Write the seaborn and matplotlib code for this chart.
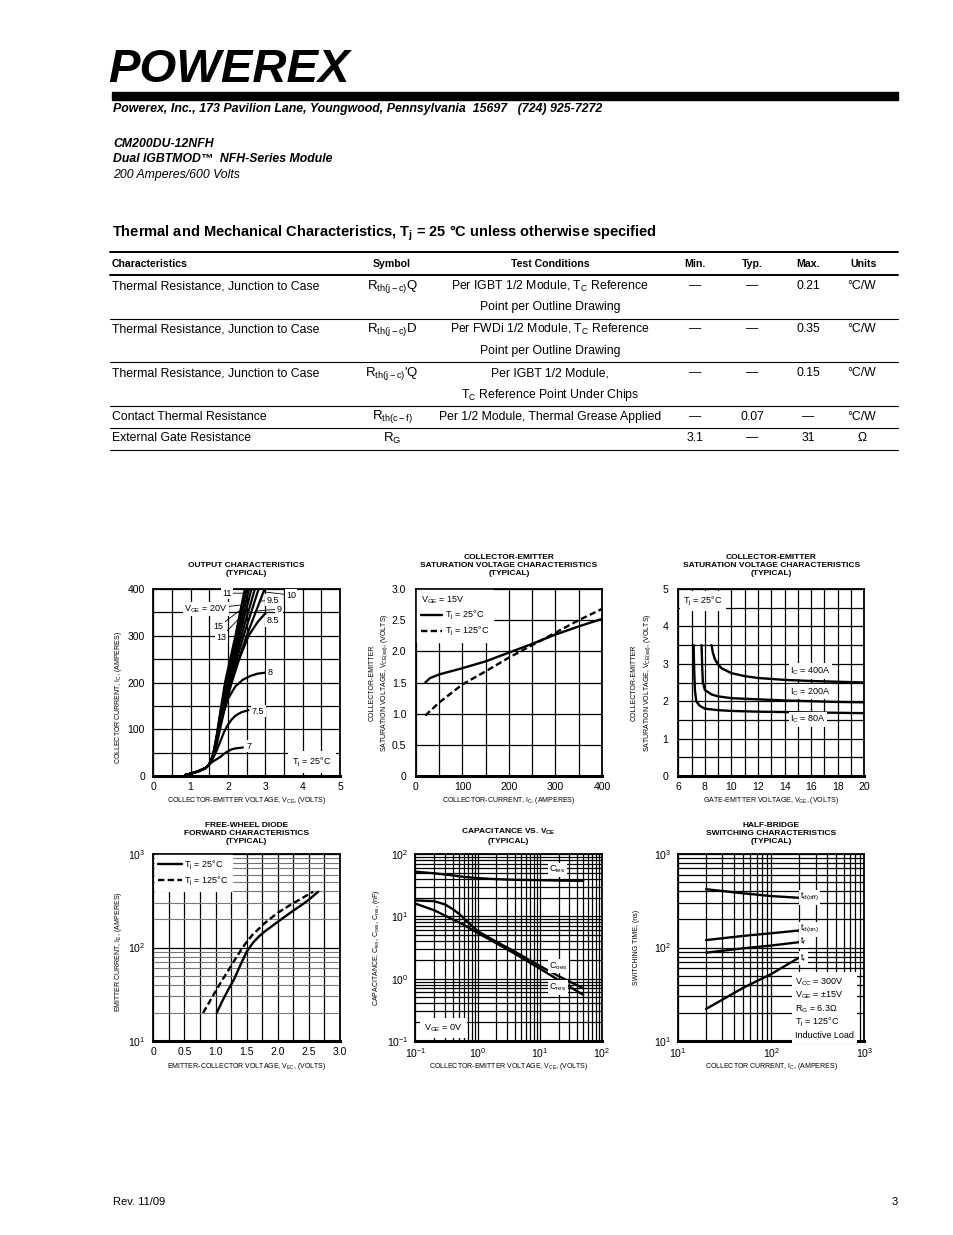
import matplotlib
matplotlib.use('Agg')
import matplotlib.pyplot as plt
import seaborn as sns
import pandas as pd
from matplotlib.ticker import MultipleLocator, LogLocator, NullFormatter, FixedLocator, FixedFormatter
from matplotlib.patches import Rectangle
from matplotlib.lines import Line2D

# ======================= DATA =======================
# --- Output characteristics: IC vs VCE for several VGE (Tj = 25 C) ---
oc_common_vce = [0.85, 1.0, 1.2, 1.4, 1.5]
oc_common_ic = [2, 5, 10, 17, 25]
vge_levels = ['7', '7.5', '8', '8.5', '9', '9.5', '10', '11', '13', '15', '20']
vce_7 = [1.6, 1.7, 1.8, 1.9, 2.0, 2.1, 2.2, 2.4]
ic_7 = [31, 36, 41, 48, 53, 57, 59, 61]
vce_7p5 = [1.6, 1.7, 1.8, 1.9, 2.0, 2.1, 2.2, 2.35, 2.55]
ic_7p5 = [38, 55, 75, 95, 110, 121, 129, 136, 141]
vce_8 = [1.6, 1.7, 1.8, 1.9, 2.0, 2.2, 2.4, 2.6, 2.8, 3.0]
ic_8 = [40, 68, 105, 140, 165, 192, 206, 214, 219, 221]
vce_8p5 = [1.6, 1.7, 1.8, 2.1, 2.3, 2.55, 2.8, 3.0]
ic_8p5 = [42, 74, 112, 200, 250, 300, 330, 348]
vce_9 = [1.6, 1.7, 1.8, 2.08, 2.5, 2.98]
ic_9 = [42, 76, 116, 200, 300, 400]
vce_9p5 = [1.6, 1.7, 1.8, 2.05, 2.42, 2.82]
ic_9p5 = [43, 78, 120, 200, 300, 400]
vce_10 = [1.6, 1.7, 1.8, 2.02, 2.36, 2.72]
ic_10 = [43, 80, 124, 200, 300, 400]
vce_11 = [1.6, 1.7, 1.8, 2.0, 2.31, 2.63]
ic_11 = [44, 82, 128, 200, 300, 400]
vce_13 = [1.6, 1.7, 1.8, 1.97, 2.27, 2.56]
ic_13 = [44, 84, 132, 200, 300, 400]
vce_15 = [1.6, 1.7, 1.8, 1.95, 2.23, 2.5]
ic_15 = [45, 86, 136, 200, 300, 400]
vce_20 = [1.6, 1.7, 1.8, 1.92, 2.2, 2.45]
ic_20 = [45, 88, 140, 200, 300, 400]
oc_x_ticklabels = ['0', '1', '2', '3', '4', '5']
oc_y_ticklabels = ['0', '100', '200', '300', '400']

# --- VCE(sat) vs IC (VGE = 15 V) ---
sat_ic_25 = [20, 30, 50, 100, 150, 200, 250, 300, 350, 400]
sat_v_25 = [1.50, 1.57, 1.63, 1.73, 1.84, 1.98, 2.12, 2.27, 2.40, 2.52]
sat_ic_125 = [20, 50, 100, 150, 200, 250, 300, 350, 400]
sat_v_125 = [0.97, 1.18, 1.47, 1.68, 1.90, 2.10, 2.30, 2.50, 2.68]
sat_x_ticklabels = ['0', '100', '200', '300', '400']
sat_y_ticklabels = ['0', '0.5', '1.0', '1.5', '2.0', '2.5', '3.0']

# --- VCE(sat) vs VGE (Tj = 25 C) ---
vg_80 = [7.15, 7.2, 7.25, 7.35, 7.6, 8, 9, 10, 12, 14, 16, 18, 20]
vs_80 = [3.5, 2.8, 2.3, 2.0, 1.88, 1.8, 1.76, 1.74, 1.72, 1.71, 1.70, 1.69, 1.68]
vg_200 = [7.75, 7.8, 7.85, 8.0, 8.5, 9, 10, 12, 14, 16, 18, 20]
vs_200 = [3.5, 2.9, 2.5, 2.3, 2.18, 2.13, 2.08, 2.05, 2.02, 2.0, 1.98, 1.97]
vg_400 = [8.5, 8.6, 8.76, 9.0, 9.26, 10, 11, 12, 14, 16, 18, 20]
vs_400 = [3.5, 3.3, 3.12, 2.98, 2.88, 2.75, 2.67, 2.62, 2.57, 2.54, 2.52, 2.5]
vge_x_ticklabels = ['6', '8', '10', '12', '14', '16', '18', '20']
vge_y_ticklabels = ['0', '1', '2', '3', '4', '5']

# --- Free-wheel diode forward characteristics ---
fwd_v_25 = [1.02, 1.1, 1.2, 1.3, 1.4, 1.5, 1.6, 1.7, 1.8, 2.0, 2.2, 2.4, 2.5, 2.65]
fwd_i_25 = [20, 26, 35, 46, 65, 90, 112, 132, 150, 188, 235, 290, 325, 395]
fwd_v_125 = [0.8, 0.9, 1.0, 1.1, 1.2, 1.3, 1.4, 1.5, 1.6, 1.8, 2.0, 2.2, 2.4, 2.57]
fwd_i_125 = [20, 26, 34, 44, 56, 72, 92, 115, 138, 185, 235, 285, 340, 395]
fwd_x_ticklabels = ['0', '0.5', '1.0', '1.5', '2.0', '2.5', '3.0']

# --- Capacitance vs VCE ---
cap_v_ies = [0.1, 0.2, 0.35, 0.6, 1, 2, 4, 10, 20, 50]
cap_ies = [52, 49, 46, 43, 41, 39.5, 38.5, 38, 37.5, 37]
cap_v_oes = [0.1, 0.2, 0.3, 0.4, 0.5, 0.7, 1, 2, 4, 10, 20, 50]
cap_oes = [18, 17.5, 15.5, 13, 11, 8, 5.8, 3.9, 2.7, 1.6, 1.1, 0.7]
cap_v_res = [0.1, 0.2, 0.35, 0.6, 1, 2, 4, 10, 20, 50]
cap_res = [16, 12.5, 9.5, 7.3, 5.4, 3.7, 2.5, 1.45, 0.95, 0.55]

# --- Half-bridge switching characteristics ---
sw_ic = [20, 50, 100, 200]
sw_tdoff = [420, 380, 355, 340]
sw_tdon = [120, 133, 142, 152]
sw_tf = [88, 98, 105, 114]
sw_tr = [22, 37, 52, 78]

# --- Thermal & mechanical table ---
tbl_header = ['Characteristics', 'Symbol', 'Test Conditions', 'Min.', 'Typ.', 'Max.', 'Units']
tbl_char = ['Thermal Resistance, Junction to Case', 'Thermal Resistance, Junction to Case',
            'Thermal Resistance, Junction to Case', 'Contact Thermal Resistance',
            'External Gate Resistance']
tbl_symbol = ['R$_{th(j-c)}$Q', 'R$_{th(j-c)}$D', "R$_{th(j-c)}$'Q", 'R$_{th(c-f)}$', 'R$_G$']
tbl_cond1 = ['Per IGBT 1/2 Module, T$_C$ Reference', 'Per FWDi 1/2 Module, T$_C$ Reference',
             'Per IGBT 1/2 Module,', 'Per 1/2 Module, Thermal Grease Applied', '']
tbl_cond2 = ['Point per Outline Drawing', 'Point per Outline Drawing',
             'T$_C$ Reference Point Under Chips', '', '']
tbl_min = ['\u2014', '\u2014', '\u2014', '\u2014', '3.1']
tbl_typ = ['\u2014', '\u2014', '\u2014', '0.07', '\u2014']
tbl_max = ['0.21', '0.35', '0.15', '\u2014', '31']
tbl_units = ['°C/W', '°C/W', '°C/W', '°C/W', 'Ω']

# ======================= STYLE =======================
sns.set_theme(style='white')
plt.rcParams['font.family'] = ['Liberation Sans', 'DejaVu Sans']
plt.rcParams['mathtext.fontset'] = 'custom'
plt.rcParams['mathtext.rm'] = 'Liberation Sans'
plt.rcParams['mathtext.it'] = 'Liberation Sans:italic'
plt.rcParams['mathtext.bf'] = 'Liberation Sans:bold'
plt.rcParams['mathtext.default'] = 'regular'
plt.rcParams['text.color'] = 'black'

W, H = 954, 1235
fig = plt.figure(figsize=(W / 100, H / 100), dpi=100)
fig.patch.set_facecolor('white')


def fx(px):
    return px / W


def fy(py):
    return 1 - py / H


def hline(x0, x1, y, lw):
    fig.add_artist(Line2D([fx(x0), fx(x1)], [fy(y), fy(y)], color='black', lw=lw,
                          transform=fig.transFigure))


# ======================= HEADER =======================
fig.text(fx(108), fy(82), 'POWEREX', fontsize=34, fontweight='bold', style='italic',
         va='baseline', ha='left')
fig.add_artist(Rectangle((fx(112), fy(100)), (898 - 112) / W, 8 / H, color='black',
                         transform=fig.transFigure))
fig.text(fx(113), fy(109), 'Powerex, Inc., 173 Pavilion Lane, Youngwood, Pennsylvania  15697   (724) 925-7272',
         fontsize=8.9, fontweight='bold', style='italic', va='center')
fig.text(fx(113), fy(144), 'CM200DU-12NFH', fontsize=8.8, fontweight='bold', style='italic', va='center')
fig.text(fx(113), fy(159), 'Dual IGBTMOD\u2122  NFH-Series Module', fontsize=8.8, fontweight='bold',
         style='italic', va='center')
fig.text(fx(113), fy(175), '200 Amperes/600 Volts', fontsize=8.8, style='italic', va='center')

fig.text(fx(112), fy(233), 'Thermal and Mechanical Characteristics, T$_j$ = 25 °C unless otherwise specified',
         fontsize=10.5, fontweight='bold', va='center')

# ======================= TABLE =======================
col_x = [112, 392, 550, 695, 752, 808, 864]
col_ha = ['left', 'center', 'center', 'center', 'center', 'center', 'center']
hline(110, 898, 252, 1.4)
hline(110, 898, 275, 1.4)
for txt, x, ha in zip(tbl_header, col_x, col_ha):
    fig.text(fx(x), fy(264), txt, fontsize=7.6, fontweight='bold', ha=ha, va='center')
row_y1 = [286, 329, 373, 417, 438]
row_y2 = [307, 351, 395, None, None]
row_lines = [319, 362, 406, 428, 450]
TF = 8.8
for i in range(5):
    y = row_y1[i]
    fig.text(fx(112), fy(y), tbl_char[i], fontsize=TF, va='center')
    fig.text(fx(392), fy(y), tbl_symbol[i], fontsize=9.5, va='center', ha='center')
    if tbl_cond1[i]:
        fig.text(fx(550), fy(y), tbl_cond1[i], fontsize=TF, va='center', ha='center')
    if tbl_cond2[i]:
        fig.text(fx(550), fy(row_y2[i]), tbl_cond2[i], fontsize=TF, va='center', ha='center')
    fig.text(fx(695), fy(y), tbl_min[i], fontsize=TF, va='center', ha='center')
    fig.text(fx(752), fy(y), tbl_typ[i], fontsize=TF, va='center', ha='center')
    fig.text(fx(808), fy(y), tbl_max[i], fontsize=TF, va='center', ha='center')
    fig.text(fx(862), fy(y), tbl_units[i], fontsize=TF, va='center', ha='center')
    hline(110, 898, row_lines[i], 0.8)

# ======================= CHART HELPERS =======================
LBL = 7.5
SMALL = 6.5
AXL = 5


def make_ax(box):
    l, t, r, b = box
    ax = fig.add_axes([fx(l), fy(b), (r - l) / W, (b - t) / H])
    ax.set_facecolor('white')
    return ax


def finish(ax, box, title, pad, xlabel, ylabel, ylab_px, xlab_py, ylab_yfrac=0.5, ypad=5):
    l, t, r, b = box
    for sp in ax.spines.values():
        sp.set_visible(True)
        sp.set_color('black')
        sp.set_linewidth(1.3)
    ax.spines['bottom'].set_linewidth(2.2)
    ax.tick_params(axis='both', which='both', length=0, labelsize=LBL, colors='black')
    ax.tick_params(axis='x', pad=4)
    ax.tick_params(axis='y', pad=ypad)
    ax.grid(True, which='both', color='black', linewidth=0.9)
    ax.set_axisbelow(True)
    ax.set_title(title, fontsize=6, fontweight='bold', pad=pad, linespacing=1.2)
    ax.set_xlabel(xlabel, fontsize=AXL, color='black')
    ax.set_ylabel(ylabel, fontsize=AXL, color='black', linespacing=1.6)
    ax.xaxis.set_label_coords(0.5, (b - xlab_py) / (b - t))
    ax.yaxis.set_label_coords((ylab_px - l) / (r - l), ylab_yfrac)
    ax.xaxis.label.set_va('center')
    ax.yaxis.label.set_va('center')


WHITE = dict(facecolor='white', edgecolor='none', pad=1.0)

# ======================= CHART 1: OUTPUT CHARACTERISTICS =======================
box1 = (153.3, 589, 340, 776)
ax1 = make_ax(box1)
curve_x = [vce_7, vce_7p5, vce_8, vce_8p5, vce_9, vce_9p5, vce_10, vce_11, vce_13, vce_15, vce_20]
curve_y = [ic_7, ic_7p5, ic_8, ic_8p5, ic_9, ic_9p5, ic_10, ic_11, ic_13, ic_15, ic_20]
frames = []
for lev, xs, ys in zip(vge_levels, curve_x, curve_y):
    frames.append(pd.DataFrame({'vce': oc_common_vce + xs, 'ic': oc_common_ic + ys, 'vge': lev}))
oc_df = pd.concat(frames, ignore_index=True)
sns.lineplot(data=oc_df, x='vce', y='ic', units='vge', estimator=None, sort=False,
             color='black', linewidth=1.6, ax=ax1, legend=False)
ax1.set_xlim(0, 5)
ax1.set_ylim(0, 400)
ax1.xaxis.set_major_locator(FixedLocator([0, 1, 2, 3, 4, 5]))
ax1.xaxis.set_major_formatter(FixedFormatter(oc_x_ticklabels))
ax1.xaxis.set_minor_locator(MultipleLocator(0.5))
ax1.yaxis.set_major_locator(FixedLocator([0, 100, 200, 300, 400]))
ax1.yaxis.set_major_formatter(FixedFormatter(oc_y_ticklabels))
ax1.yaxis.set_minor_locator(MultipleLocator(50))
ann = dict(arrowstyle='-', lw=0.6, color='black', shrinkA=0, shrinkB=0)
ax1.annotate('11', xy=(2.40, 391), xytext=(1.98, 391), fontsize=SMALL, ha='center', va='center',
             arrowprops=ann, bbox=WHITE)
ax1.annotate('V$_{GE}$ = 20V', xy=(2.37, 366), xytext=(2.0, 357), fontsize=SMALL, ha='right',
             va='center', arrowprops=ann, bbox=WHITE)
ax1.annotate('15', xy=(2.40, 359), xytext=(1.74, 319), fontsize=SMALL, ha='center', va='center',
             arrowprops=ann, bbox=WHITE)
ax1.annotate('13', xy=(2.38, 344), xytext=(1.82, 297), fontsize=SMALL, ha='center', va='center',
             arrowprops=ann, bbox=WHITE)
ax1.annotate('10', xy=(2.94, 394), xytext=(3.69, 387), fontsize=SMALL, ha='center', va='center',
             arrowprops=ann, bbox=WHITE)
ax1.annotate('9.5', xy=(2.86, 374), xytext=(3.19, 376), fontsize=SMALL, ha='center', va='center',
             arrowprops=ann, bbox=WHITE)
ax1.annotate('9', xy=(2.78, 353), xytext=(3.37, 357), fontsize=SMALL, ha='center', va='center',
             arrowprops=ann, bbox=WHITE)
ax1.text(3.19, 332, '8.5', fontsize=SMALL, ha='center', va='center', bbox=WHITE)
ax1.text(3.13, 222, '8', fontsize=SMALL, ha='center', va='center', bbox=WHITE)
ax1.text(2.81, 139, '7.5', fontsize=SMALL, ha='center', va='center', bbox=WHITE)
ax1.text(2.56, 64, '7', fontsize=SMALL, ha='center', va='center', bbox=WHITE)
ax1.text(0.745, 0.075, 'T$_j$ = 25°C', transform=ax1.transAxes, fontsize=SMALL, ha='left',
         va='center', bbox=dict(facecolor='white', edgecolor='none', pad=3))
finish(ax1, box1, 'OUTPUT CHARACTERISTICS\n(TYPICAL)', 10,
       'COLLECTOR-EMITTER VOLTAGE, V$_{CE}$, (VOLTS)', 'COLLECTOR CURRENT, I$_C$, (AMPERES)',
       118, 800, ylab_yfrac=0.42, ypad=6)

# ======================= CHART 2: VCE(sat) vs IC =======================
box2 = (416, 589, 602, 776)
ax2 = make_ax(box2)
sns.lineplot(x=sat_ic_25, y=sat_v_25, color='black', linewidth=1.7, ax=ax2,
             label='T$_j$ = 25°C', sort=False)
sns.lineplot(x=sat_ic_125, y=sat_v_125, color='black', linewidth=1.7, ax=ax2,
             label='T$_j$ = 125°C', sort=False, linestyle=(0, (2.7, 1.4)))
ax2.set_xlim(0, 400)
ax2.set_ylim(0, 3)
ax2.xaxis.set_major_locator(FixedLocator([0, 100, 200, 300, 400]))
ax2.xaxis.set_major_formatter(FixedFormatter(sat_x_ticklabels))
ax2.xaxis.set_minor_locator(MultipleLocator(50))
ax2.yaxis.set_major_locator(FixedLocator([0, 0.5, 1.0, 1.5, 2.0, 2.5, 3.0]))
ax2.yaxis.set_major_formatter(FixedFormatter(sat_y_ticklabels))
leg2 = ax2.legend(title='V$_{GE}$ = 15V', loc='upper left', fontsize=SMALL, title_fontsize=SMALL,
                  frameon=True, fancybox=False, framealpha=1, edgecolor='white', facecolor='white',
                  handlelength=2.3, handletextpad=0.3, labelspacing=0.35, borderpad=0.45,
                  borderaxespad=0.15, alignment='left')
finish(ax2, box2, 'COLLECTOR-EMITTER\nSATURATION VOLTAGE CHARACTERISTICS\n(TYPICAL)', 10,
       'COLLECTOR-CURRENT, I$_C$, (AMPERES)',
       'COLLECTOR-EMITTER\nSATURATION VOLTAGE, V$_{CE(sat)}$, (VOLTS)', 379.5, 800, ypad=7)

# ======================= CHART 3: VCE(sat) vs VGE =======================
box3 = (678.3, 589, 864.3, 776)
ax3 = make_ax(box3)
for xs, ys in [(vg_80, vs_80), (vg_200, vs_200), (vg_400, vs_400)]:
    sns.lineplot(x=xs, y=ys, color='black', linewidth=1.7, ax=ax3, sort=False)
ax3.set_xlim(6, 20)
ax3.set_ylim(0, 5)
ax3.xaxis.set_major_locator(FixedLocator([6, 8, 10, 12, 14, 16, 18, 20]))
ax3.xaxis.set_major_formatter(FixedFormatter(vge_x_ticklabels))
ax3.xaxis.set_minor_locator(MultipleLocator(1))
ax3.yaxis.set_major_locator(FixedLocator([0, 1, 2, 3, 4, 5]))
ax3.yaxis.set_major_formatter(FixedFormatter(vge_y_ticklabels))
ax3.yaxis.set_minor_locator(MultipleLocator(0.5))
ax3.text(14.4, 2.81, 'I$_C$ = 400A', fontsize=SMALL, ha='left', va='center', bbox=WHITE)
ax3.text(14.4, 2.25, 'I$_C$ = 200A', fontsize=SMALL, ha='left', va='center', bbox=WHITE)
ax3.text(14.4, 1.52, 'I$_C$ = 80A', fontsize=SMALL, ha='left', va='center', bbox=WHITE)
ax3.text(0.025, 0.935, 'T$_j$ = 25°C', transform=ax3.transAxes, fontsize=SMALL, ha='left',
         va='center', bbox=dict(facecolor='white', edgecolor='none', pad=2.5))
finish(ax3, box3, 'COLLECTOR-EMITTER\nSATURATION VOLTAGE CHARACTERISTICS\n(TYPICAL)', 10,
       'GATE-EMITTER VOLTAGE, V$_{GE}$, (VOLTS)',
       'COLLECTOR-EMITTER\nSATURATION VOLTAGE, V$_{CE(sat)}$, (VOLTS)', 642, 800, ypad=7)

# ======================= CHART 4: FREE-WHEEL DIODE =======================
box4 = (153.3, 854, 340, 1041)
ax4 = make_ax(box4)
sns.lineplot(x=fwd_v_25, y=fwd_i_25, color='black', linewidth=1.7, ax=ax4,
             label='T$_j$ = 25°C', sort=False)
sns.lineplot(x=fwd_v_125, y=fwd_i_125, color='black', linewidth=1.7, ax=ax4,
             label='T$_j$ = 125°C', sort=False, linestyle=(0, (2.7, 1.4)))
ax4.set_yscale('log')
ax4.set_xlim(0, 3)
ax4.set_ylim(10, 1000)
ax4.xaxis.set_major_locator(FixedLocator([0, 0.5, 1.0, 1.5, 2.0, 2.5, 3.0]))
ax4.xaxis.set_major_formatter(FixedFormatter(fwd_x_ticklabels))
ax4.xaxis.set_minor_locator(MultipleLocator(0.25))
ax4.yaxis.set_major_locator(LogLocator(base=10, numticks=10))
ax4.yaxis.set_minor_locator(LogLocator(base=10, subs=range(2, 10), numticks=40))
ax4.yaxis.set_minor_formatter(NullFormatter())
ax4.legend(loc='upper left', fontsize=SMALL, frameon=True, fancybox=False, framealpha=1,
           edgecolor='white', facecolor='white', handlelength=2.6, handletextpad=0.3,
           labelspacing=0.3, borderpad=0.4, borderaxespad=0.15)
finish(ax4, box4, 'FREE-WHEEL DIODE\nFORWARD CHARACTERISTICS\n(TYPICAL)', 8,
       'EMITTER-COLLECTOR VOLTAGE, V$_{EC}$, (VOLTS)', 'EMITTER CURRENT, I$_E$, (AMPERES)',
       118, 1066, ylab_yfrac=0.48, ypad=6)
ax4.grid(True, which='minor', axis='y', color='#777777', linewidth=0.8)

# ======================= CHART 5: CAPACITANCE =======================
box5 = (415.5, 854, 602, 1041)
ax5 = make_ax(box5)
for xs, ys in [(cap_v_ies, cap_ies), (cap_v_oes, cap_oes), (cap_v_res, cap_res)]:
    sns.lineplot(x=xs, y=ys, color='black', linewidth=1.7, ax=ax5, sort=False)
ax5.set_xscale('log')
ax5.set_yscale('log')
ax5.set_xlim(0.1, 100)
ax5.set_ylim(0.1, 100)
for axis in (ax5.xaxis, ax5.yaxis):
    axis.set_major_locator(LogLocator(base=10, numticks=10))
    axis.set_minor_locator(LogLocator(base=10, subs=range(2, 10), numticks=40))
    axis.set_minor_formatter(NullFormatter())
ax5.text(14.3, 56, 'C$_{ies}$', fontsize=SMALL, ha='left', va='center', bbox=WHITE)
ax5.text(14.3, 1.6, 'C$_{oes}$', fontsize=SMALL, ha='left', va='center', bbox=WHITE)
ax5.text(14.3, 0.72, 'C$_{res}$', fontsize=SMALL, ha='left', va='center', bbox=WHITE)
ax5.text(0.045, 0.07, 'V$_{GE}$ = 0V', transform=ax5.transAxes, fontsize=SMALL, ha='left',
         va='center', bbox=dict(facecolor='white', edgecolor='none', pad=3))
finish(ax5, box5, 'CAPACITANCE VS. V$_{CE}$\n(TYPICAL)', 8,
       'COLLECTOR-EMITTER VOLTAGE, V$_{CE}$, (VOLTS)',
       'CAPACITANCE, C$_{ies}$, C$_{oes}$, C$_{res}$, (nF)', 377, 1066, ypad=5)

# ======================= CHART 6: SWITCHING =======================
box6 = (678, 854, 864.3, 1041)
ax6 = make_ax(box6)
for ys in (sw_tdoff, sw_tdon, sw_tf, sw_tr):
    sns.lineplot(x=sw_ic, y=ys, color='black', linewidth=1.7, ax=ax6, sort=False)
ax6.set_xscale('log')
ax6.set_yscale('log')
ax6.set_xlim(10, 1000)
ax6.set_ylim(10, 1000)
for axis in (ax6.xaxis, ax6.yaxis):
    axis.set_major_locator(LogLocator(base=10, numticks=10))
    axis.set_minor_locator(LogLocator(base=10, subs=range(2, 10), numticks=40))
    axis.set_minor_formatter(NullFormatter())
ax6.text(204, 345, 't$_{d(off)}$', fontsize=SMALL, ha='left', va='center', bbox=WHITE)
ax6.text(204, 157, 't$_{d(on)}$', fontsize=SMALL, ha='left', va='center', bbox=WHITE)
ax6.text(204, 117, 't$_f$', fontsize=SMALL, ha='left', va='center', bbox=WHITE)
ax6.text(204, 77, 't$_r$', fontsize=SMALL, ha='left', va='center', bbox=WHITE)
ax6.text(0.628, 0.345, 'V$_{CC}$ = 300V\nV$_{GE}$ = ±15V\nR$_G$ = 6.3Ω\nT$_j$ = 125°C\nInductive Load',
         transform=ax6.transAxes, fontsize=SMALL, ha='left', va='top', linespacing=1.22,
         bbox=dict(facecolor='white', edgecolor='none', pad=2))
finish(ax6, box6, 'HALF-BRIDGE\nSWITCHING CHARACTERISTICS\n(TYPICAL)', 8,
       'COLLECTOR CURRENT, I$_C$, (AMPERES)', 'SWITCHING TIME, (ns)', 637, 1066, ypad=5)

# ======================= FOOTER =======================
fig.text(fx(113), fy(1202), 'Rev. 11/09', fontsize=8, va='center')
fig.text(fx(898), fy(1202), '3', fontsize=8, va='center', ha='right')

fig.savefig('out.png', dpi=100, facecolor='white')
